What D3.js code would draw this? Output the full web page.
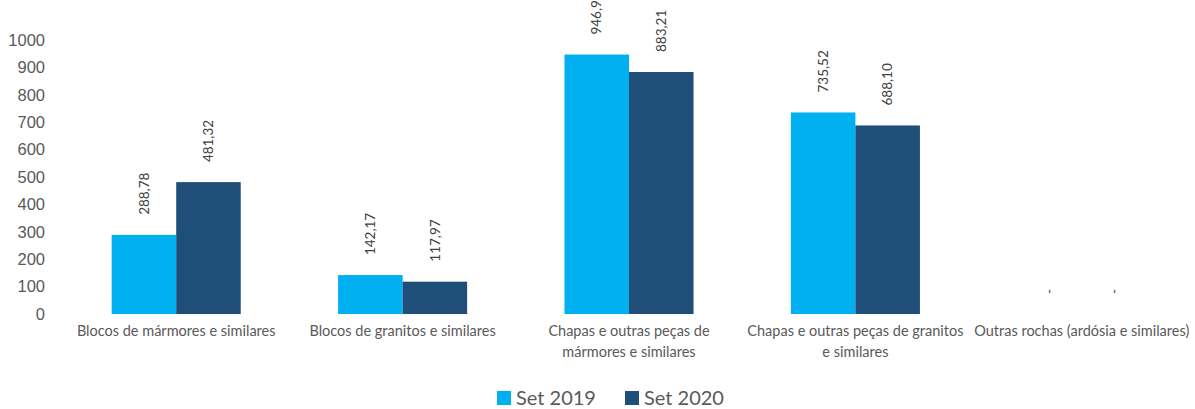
<!DOCTYPE html>
<html>
<head>
<meta charset="utf-8">
<script src="https://cdn.jsdelivr.net/npm/d3@7"></script>
<style>
    body { margin: 0; background: #fff; font-family: 'Lato', 'Open Sans', sans-serif; }
    .tick text { fill: #595959; }
</style>
</head>
<body>
<div id="chart"></div>
<script>
// data
var categories = [
    ["Blocos de mármores e similares"],
    ["Blocos de granitos e similares"],
    ["Chapas e outras peças de", "mármores e similares"],
    ["Chapas e outras peças de granitos", "e similares"],
    ["Outras rochas (ardósia e similares)"]
];
var series = ["Set 2019", "Set 2020"];
var set2019 = [288.78, 142.17, 946.92, 735.52, 0];
var set2020 = [481.32, 117.97, 883.21, 688.10, 0];
var yTicks = [0, 100, 200, 300, 400, 500, 600, 700, 800, 900, 1000];
var colors = ["#00B0F0", "#1F4E79"];

var width = 1195, height = 409;
var margin = {top: 40, right: 0, bottom: 95, left: 63};
var w = width - margin.left - margin.right, h = height - margin.top - margin.bottom;

var svg = d3.select("#chart").append("svg")
    .attr("width", width).attr("height", height);
var g = svg.append("g").attr("transform", "translate(" + margin.left + "," + margin.top + ")");

var x0 = d3.scaleBand().domain(d3.range(categories.length)).range([0, w]).paddingInner(0.43).paddingOuter(0.215);
var x1 = d3.scaleBand().domain(series).range([0, x0.bandwidth()]);
var y = d3.scaleLinear().domain([0, 1000]).range([h, 0]);

// y axis
var yAxis = g.append("g")
    .call(d3.axisLeft(y).tickValues(yTicks).tickFormat(d3.format("d")).tickSize(0).tickPadding(18));
yAxis.select(".domain").remove();
yAxis.selectAll("text").style("font-size", "16.5px");

var rows = categories.map(function(c, i) {
    return {i: i, vals: [set2019[i], set2020[i]]};
});

var grp = g.selectAll(".grp").data(rows).enter().append("g")
    .attr("transform", function(d) { return "translate(" + x0(d.i) + ",0)"; });

grp.selectAll("rect").data(function(d) { return d.vals; }).enter().append("rect")
    .attr("x", function(d, j) { return x1(series[j]); })
    .attr("y", function(d) { return y(d); })
    .attr("width", x1.bandwidth())
    .attr("height", function(d) { return h - y(d); })
    .attr("fill", function(d, j) { return colors[j]; });

// data labels
var fmt = function(v) { return v === 0 ? "-" : d3.format(".2f")(v).replace(".", ","); };
grp.selectAll(".lbl").data(function(d) { return d.vals; }).enter().append("text")
    .attr("transform", function(d, j) {
        var cx = x1(series[j]) + x1.bandwidth() / 2;
        return "translate(" + cx + "," + (y(d) - 20) + ") rotate(-90)";
    })
    .attr("dy", "0.35em")
    .attr("fill", "#404040")
    .style("font-size", "13.5px")
    .text(fmt);

// category labels
var cat = g.selectAll(".cat").data(categories).enter().append("text")
    .attr("text-anchor", "middle")
    .attr("fill", "#595959")
    .style("font-size", "14.5px")
    .attr("x", function(d, i) { return x0(i) + x0.bandwidth() / 2; })
    .attr("y", h + 22);
cat.selectAll("tspan").data(function(d) { return d; }).enter().append("tspan")
    .attr("x", function() { return d3.select(this.parentNode).attr("x"); })
    .attr("dy", function(d, k) { return k === 0 ? 0 : "1.45em"; })
    .text(function(d) { return d; });

// legend
var legend = svg.append("g").attr("transform", "translate(497,391)");
var li = legend.selectAll("g").data(series).enter().append("g")
    .attr("transform", function(d, i) { return "translate(" + i * 128 + ",0)"; });
li.append("rect").attr("width", 14).attr("height", 14)
    .attr("fill", function(d, i) { return colors[i]; });
li.append("text").attr("x", 19).attr("y", 7).attr("dy", "0.35em")
    .attr("fill", "#595959").style("font-size", "20px")
    .text(function(d) { return d; });
</script>
</body>
</html>
